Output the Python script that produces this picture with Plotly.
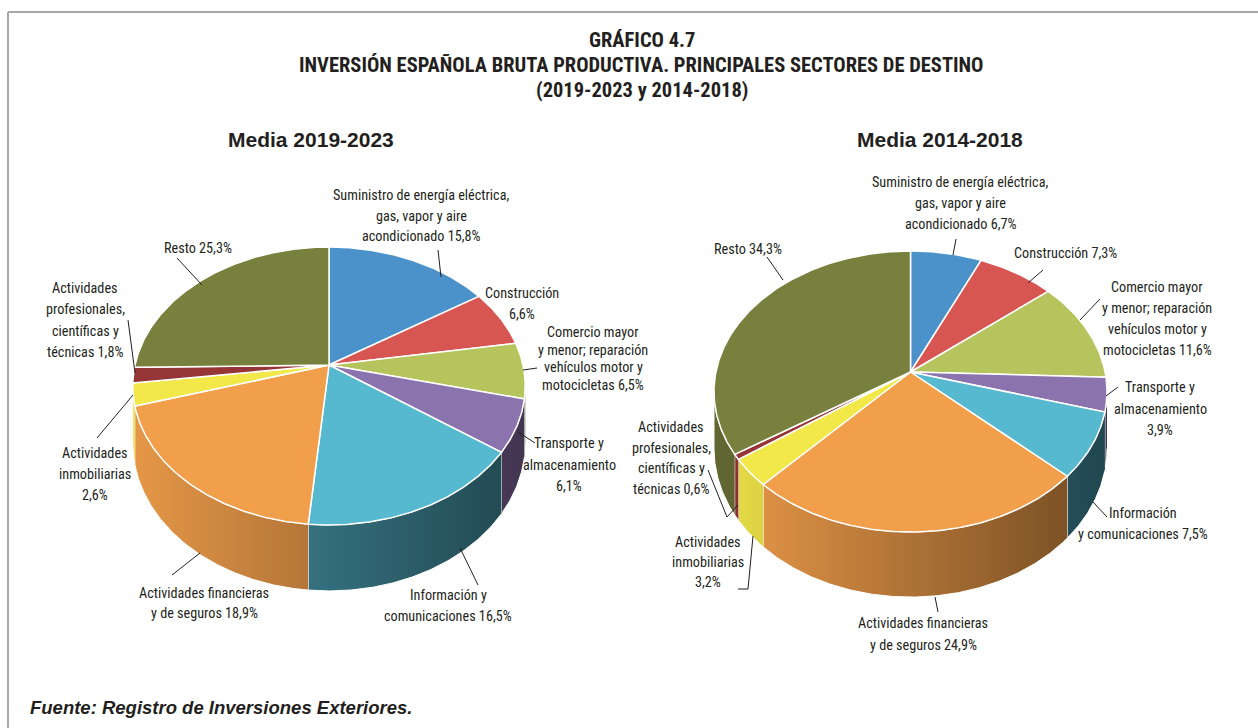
import numpy as np
import plotly.graph_objects as go

# ---------------- data ----------------
sectors = ["Suministro", "Construcción", "Comercio", "Transporte", "Información",
           "Financieras", "Inmobiliarias", "Profesionales", "Resto"]
shares_2019_2023 = [15.8, 6.6, 6.5, 6.1, 16.5, 18.9, 2.6, 1.8, 25.3]
shares_2014_2018 = [6.7, 7.3, 11.6, 3.9, 7.5, 24.9, 3.2, 0.6, 34.3]

labels_2019_2023 = [
    ["Suministro de energía eléctrica,", "gas, vapor y aire", "acondicionado {p}"],
    ["Construcción", "{p}"],
    ["Comercio mayor", "y menor; reparación", "vehículos motor y", "motocicletas {p}"],
    ["Transporte y", "almacenamiento", "{p}"],
    ["Información y", "comunicaciones {p}"],
    ["Actividades financieras", "y de seguros {p}"],
    ["Actividades", "inmobiliarias", "{p}"],
    ["Actividades", "profesionales,", "científicas y", "técnicas {p}"],
    ["Resto {p}"],
]
labels_2014_2018 = [
    ["Suministro de energía eléctrica,", "gas, vapor y aire", "acondicionado {p}"],
    ["Construcción {p}"],
    ["Comercio mayor", "y menor; reparación", "vehículos motor y", "motocicletas {p}"],
    ["Transporte y", "almacenamiento", "{p}"],
    ["Información", "y comunicaciones {p}"],
    ["Actividades financieras", "y de seguros {p}"],
    ["Actividades", "inmobiliarias", "{p}"],
    ["Actividades", "profesionales,", "científicas y", "técnicas {p}"],
    ["Resto {p}"],
]

# ---------------- style ----------------
top_colors = ["#4a92c9", "#d85652", "#b5c45c", "#8b73ad", "#57b9d0",
              "#f29f4b", "#f3e84a", "#953535", "#77803d"]
wall_mult = [1.0, 1.0, 1.0, 1.0, 0.82, 1.0, 1.0, 1.0, 0.85]

pies = [
    dict(values=shares_2019_2023, labels=labels_2019_2023,
         cx=329, cy=365, rx=194, ry=135.8, a=0.151, h=56,
         label_pos=[(421, 195, 20.5), (522, 293, 21), (593, 332, 17.7), (569, 443, 21.5),
                    (448, 595, 20.5), (204, 593, 20), (95, 453, 21), (85, 288, 21.3),
                    (198, 248, 0)],
         leaders=[[(438, 250), (441, 277)], None, [(523, 370), (537, 368)],
                  [(518, 432), (535, 443)], [(460, 548), (478, 585)],
                  [(172, 575), (200, 553)], [(97, 438), (133, 395)],
                  [(128, 320), (135, 373)], [(177, 258), (202, 285)]]),
    dict(values=shares_2014_2018, labels=labels_2014_2018,
         cx=910.5, cy=372, rx=194.6, ry=137.8, a=0.139, h=56,
         label_pos=[(960, 182, 21), (1065, 253, 0), (1157, 287, 21), (1160, 387, 21.5),
                    (1143, 513, 20.5), (923, 623, 21.5), (708, 542, 20), (671, 427, 20.5),
                    (748, 249, 0)],
         leaders=[[(956, 239), (953, 255)], [(1043, 270), (1028, 283)],
                  [(1100, 299), (1080, 320)], [(1118, 387), (1106, 396)],
                  [(1107, 517), (1093, 502)], [(938, 612), (935, 597)],
                  [(738, 589), (748, 589), (753, 536)],
                  [(708, 470), (727, 517), (738, 505)], [(767, 257), (783, 280)]]),
]

TEXT = "#231f20"
LABEL_FONT = "Roboto Condensed, Asap Condensed, DejaVu Sans Condensed, sans-serif"
TITLE_FAMILY = "Roboto Condensed, Asap Condensed, DejaVu Sans Condensed, sans-serif"


def hex2rgb(c):
    c = c.lstrip("#")
    return [int(c[i:i + 2], 16) for i in (0, 2, 4)]


def shade(c, f):
    r, g, b = hex2rgb(c)
    return "rgb(%d,%d,%d)" % (min(255, r * f), min(255, g * f), min(255, b * f))


def proj(p, th):
    t = np.radians(th)
    s = 1.0 / (1.0 + p["a"] * np.cos(t))
    return p["cx"] + p["rx"] * np.sin(t) * s, p["cy"] - p["ry"] * np.cos(t) * s, s


def fmt(v):
    return ("%.1f" % v).replace(".", ",") + "%"


fig = go.Figure()
annotations = []
shapes = []

for p in pies:
    vals = np.array(p["values"], dtype=float)
    bounds = np.concatenate([[0], np.cumsum(vals)]) / vals.sum() * 360.0
    vis0 = np.degrees(np.arccos(-p["a"]))
    vis1 = 360.0 - vis0
    # side walls (front, visible part)
    for i, col in enumerate(top_colors):
        t0, t1 = max(bounds[i], vis0), min(bounds[i + 1], vis1)
        if t1 <= t0:
            continue
        th = np.linspace(t0, t1, max(3, int((t1 - t0) * 2)))
        x, y, s = proj(p, th)
        xs = np.concatenate([x, x[::-1]])
        ys = np.concatenate([y, (y + p["h"] * s)[::-1]])
        xl, xr = xs.min(), xs.max()
        fl = min(0.95, 0.72 - 0.25 * (xl - p["cx"]) / p["rx"]) * wall_mult[i]
        fr = min(0.95, 0.72 - 0.25 * (xr - p["cx"]) / p["rx"]) * wall_mult[i]
        fig.add_trace(go.Scatter(
            x=xs, y=ys, mode="lines", fill="toself",
            line=dict(color="white", width=1),
            fillgradient=dict(type="horizontal",
                              colorscale=[[0, shade(col, fl)], [1, shade(col, fr)]],
                              start=xl, stop=xr),
            hoverinfo="skip", showlegend=False))
    # top faces
    for i, col in enumerate(top_colors):
        t0, t1 = bounds[i], bounds[i + 1]
        th = np.linspace(t0, t1, max(3, int((t1 - t0) * 2)))
        x, y, s = proj(p, th)
        xs = np.concatenate([[p["cx"]], x, [p["cx"]]])
        ys = np.concatenate([[p["cy"]], y, [p["cy"]]])
        fig.add_trace(go.Scatter(
            x=xs, y=ys, mode="lines", fill="toself", fillcolor=col,
            line=dict(color="white", width=1.5),
            name=sectors[i], hoverinfo="name", showlegend=False))
    # data labels with leader lines
    for i, lines in enumerate(p["labels"]):
        xc, y0, dy = p["label_pos"][i]
        for k, ln in enumerate(lines):
            annotations.append(dict(
                x=xc, y=y0 + k * dy, xref="x", yref="y", showarrow=False,
                text=ln.replace("{p}", fmt(p["values"][i])),
                xanchor="center", yanchor="middle",
                font=dict(family=LABEL_FONT, size=14.2, color=TEXT)))
        ld = p["leaders"][i]
        if ld:
            path = "M " + " L ".join("%g,%g" % pt for pt in ld)
            shapes.append(dict(type="path", path=path, xref="x", yref="y",
                               line=dict(color=TEXT, width=1)))

TITLE_FONT = dict(family=TITLE_FAMILY, size=20.5, color=TEXT)
for txt, yy in [("GRÁFICO 4.7", 40),
                ("INVERSIÓN ESPAÑOLA BRUTA PRODUCTIVA. PRINCIPALES SECTORES DE DESTINO", 65),
                ("(2019-2023 y 2014-2018)", 90)]:
    annotations.append(dict(x=641.5, y=yy, xref="x", yref="y", showarrow=False,
                            text="<b>%s</b>" % txt, xanchor="center", yanchor="middle",
                            font=TITLE_FONT))
for txt, xx in [("Media 2019-2023", 311), ("Media 2014-2018", 940)]:
    annotations.append(dict(x=xx, y=139, xref="x", yref="y", showarrow=False,
                            text="<b>%s</b>" % txt, xanchor="center", yanchor="middle",
                            font=dict(family="Liberation Sans, Arial, sans-serif", size=21,
                                      color=TEXT)))
annotations.append(dict(x=28, y=707, xref="x", yref="y", showarrow=False,
                        text="<b><i>Fuente: Registro de Inversiones Exteriores.</i></b>",
                        xanchor="left", yanchor="middle",
                        font=dict(family="Liberation Sans, Arial, sans-serif", size=18.5,
                                  color=TEXT)))

shapes.append(dict(type="line", x0=8, x1=1258, y0=12, y1=12, xref="x", yref="y",
                   line=dict(color="#a8a8a8", width=2)))
shapes.append(dict(type="line", x0=8, x1=8, y0=12, y1=728, xref="x", yref="y",
                   line=dict(color="#a8a8a8", width=2)))

fig.update_layout(
    width=1258, height=728, margin=dict(l=0, r=0, t=0, b=0),
    paper_bgcolor="white", plot_bgcolor="white",
    xaxis=dict(range=[0, 1258], visible=False, fixedrange=True),
    yaxis=dict(range=[728, 0], visible=False, fixedrange=True),
    annotations=annotations, shapes=shapes, showlegend=False,
)
fig.write_html("out.html", config={"displayModeBar": False},
               post_script="document.body.style.margin='0';")
